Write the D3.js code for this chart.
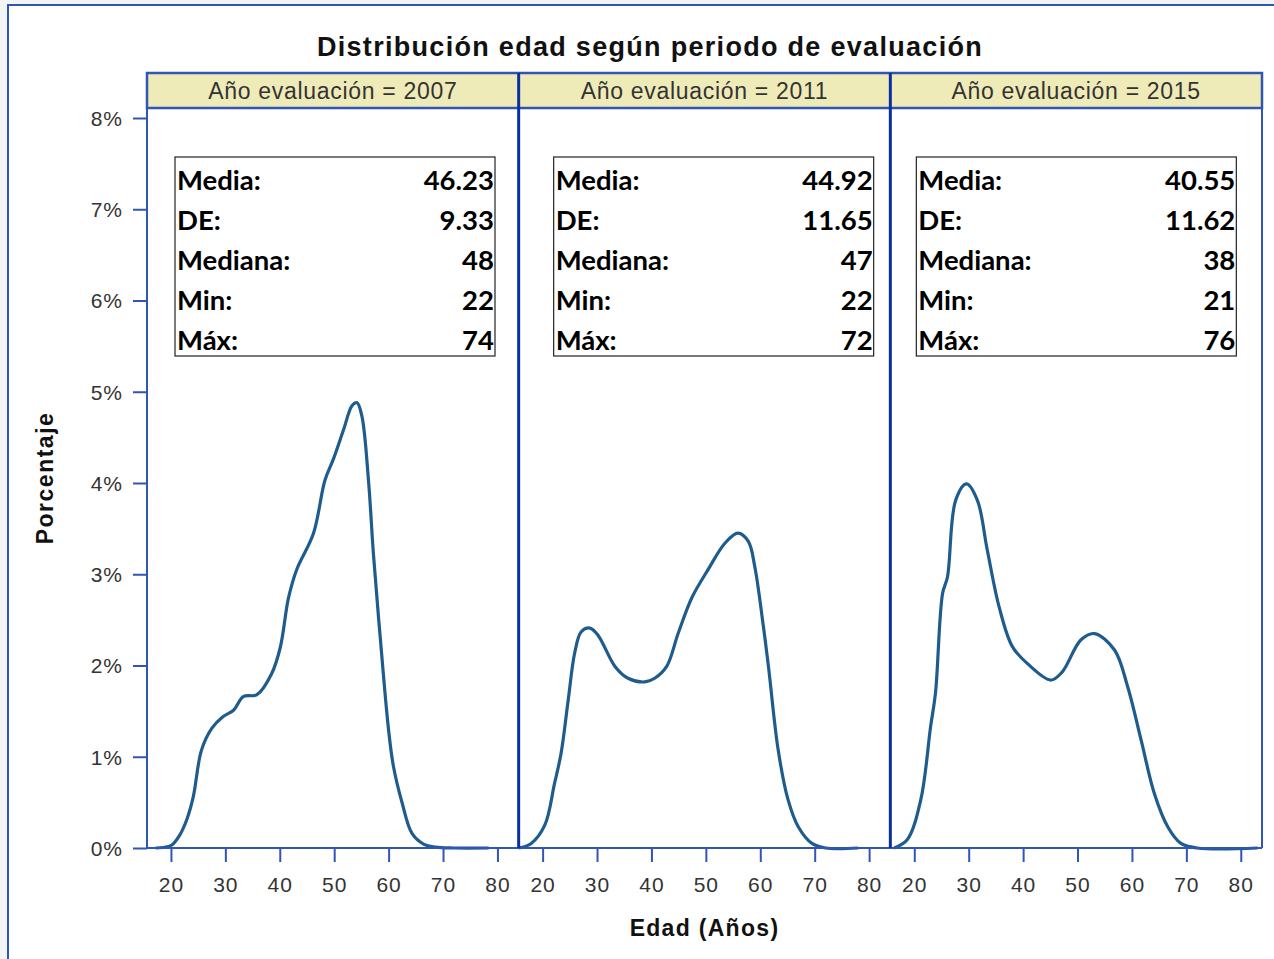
<!doctype html>
<html>
<head>
<meta charset="utf-8">
<script src="https://d3js.org/d3.v7.min.js"></script>
<style>
  body { margin: 0; background: #f3f5f5; }
  svg text { font-family: "Liberation Sans", Arial, sans-serif; }
  .tick text { fill: #333; font-size: 21px; letter-spacing: 1px; }
  .stats text { font-family: Lato, "Open Sans", sans-serif; font-weight: bold; font-size: 27.5px; fill: #000; }
</style>
</head>
<body>
<script>
// periods and their summary stats
const years = ["2007", "2011", "2015"];
const statLabels = ["Media:", "DE:", "Mediana:", "Min:", "Máx:"];
const statValues = [
  ["46.23", "9.33", "48", "22", "74"],
  ["44.92", "11.65", "47", "22", "72"],
  ["40.55", "11.62", "38", "21", "76"]
];

// density curves (age, percent)
const age2007 = [17.2, 18.5, 20.1, 21.5, 22.9, 24.1, 25.6, 27.5, 29.6, 31.5, 33.3, 35.8, 38.5, 40.1, 41.6, 43.1, 46.2, 48.3, 49.9, 51.7, 53.3, 54.2, 55.1, 56.3, 57.2, 58.5, 60.0, 60.9, 62.5, 64.3, 66.5, 68.6, 72, 78.4];
const pct2007 = [0, 0.005, 0.03, 0.13, 0.31, 0.56, 1.07, 1.31, 1.44, 1.51, 1.66, 1.68, 1.91, 2.2, 2.74, 3.05, 3.45, 4.03, 4.27, 4.58, 4.85, 4.88, 4.73, 4.03, 3.23, 2.28, 1.29, 0.89, 0.49, 0.16, 0.04, 0.01, 0, 0];

const age2011 = [15.6, 17.9, 20.4, 22.2, 23.4, 24.7, 25.9, 27.1, 28.7, 30.2, 33.3, 35.7, 38.8, 40.6, 42.8, 44.9, 47.4, 50.4, 53.5, 55.9, 57.8, 59.0, 60.5, 61.5, 63.3, 65.1, 67.0, 69.5, 72, 78.0];
const pct2011 = [0, 0.05, 0.25, 0.71, 1.04, 1.62, 2.14, 2.37, 2.41, 2.33, 1.99, 1.86, 1.82, 1.86, 1.99, 2.35, 2.74, 3.05, 3.34, 3.45, 3.36, 3.08, 2.46, 1.99, 1.07, 0.53, 0.23, 0.05, 0, 0];

const age2015 = [16.3, 18.7, 21.2, 23.0, 23.9, 25.2, 26.1, 27.6, 29.6, 31.6, 33.4, 35.6, 38.0, 40.8, 45.1, 47.2, 50.6, 53.1, 56.8, 59.2, 61.7, 64.1, 66.6, 69.0, 72, 83.1];
const pct2015 = [0, 0.09, 0.53, 1.33, 1.70, 2.79, 2.97, 3.81, 3.99, 3.81, 3.27, 2.64, 2.21, 2.02, 1.84, 1.93, 2.28, 2.35, 2.17, 1.77, 1.18, 0.60, 0.23, 0.05, 0, 0];

const ages = [age2007, age2011, age2015];
const pcts = [pct2007, pct2011, pct2015];

const xTicks = [20, 30, 40, 50, 60, 70, 80];
const yTicks = [0, 1, 2, 3, 4, 5, 6, 7, 8];

// layout
const W = 1274, H = 959;
const plotL = 147, plotR = 1262, headTop = 73, headBot = 108, plotBot = 848;
const panelW = (plotR - plotL) / 3;
const boxOffset = [28, 35, 26], boxW = 320, boxTop = 157, boxH = 199;

const svg = d3.select("body").append("svg")
  .attr("width", W).attr("height", H);

// outer frame
svg.append("rect").attr("x", 8).attr("y", 5).attr("width", W + 10).attr("height", H + 10)
  .attr("fill", "#fff").attr("stroke", "#2f55b5").attr("stroke-width", 2);

svg.append("text").attr("x", 650).attr("y", 56).attr("text-anchor", "middle")
  .style("font-size", "27px").style("font-weight", "bold").style("letter-spacing", "1.3px").attr("fill", "#111")
  .text("Distribución edad según periodo de evaluación");

const y = d3.scaleLinear().domain([0, 8]).range([plotBot, 118]);

// header strip
svg.append("rect").attr("x", plotL).attr("y", headTop).attr("width", plotR - plotL).attr("height", headBot - headTop)
  .attr("fill", "#efebb8").attr("stroke", "#2f55b5").attr("stroke-width", 2.5);

// y axis
const yAxis = svg.append("g").attr("transform", `translate(${plotL},0)`)
  .call(d3.axisLeft(y).tickValues(yTicks).tickSize(14).tickPadding(10).tickFormat(d => d + "%"));
yAxis.select(".domain").remove();
yAxis.selectAll(".tick line").attr("stroke", "#2f55b5").attr("stroke-width", 2);
yAxis.selectAll(".tick text").attr("dy", "0.35em").attr("y", 0);

svg.append("text").attr("transform", `translate(53,${(headBot + plotBot) / 2}) rotate(-90)`)
  .attr("text-anchor", "middle").style("font-size", "23px").style("font-weight", "bold")
  .style("letter-spacing", "1.5px").attr("fill", "#111")
  .text("Porcentaje");

svg.append("text").attr("x", (plotL + plotR) / 2).attr("y", 936).attr("text-anchor", "middle")
  .style("font-size", "23px").style("font-weight", "bold").style("letter-spacing", "1.3px").attr("fill", "#111")
  .text("Edad (Años)");

const line = d3.line().curve(d3.curveCatmullRom.alpha(0.5));

years.forEach((yr, i) => {
  const x0 = plotL + i * panelW;
  const x = d3.scaleLinear().domain([15.6, 83.9]).range([x0, x0 + panelW]);

  svg.append("text").attr("x", x0 + panelW / 2).attr("y", 99).attr("text-anchor", "middle")
    .style("font-size", "23px").style("letter-spacing", "0.7px").attr("fill", "#333")
    .text("Año evaluación = " + yr);

  // x axis
  const xa = svg.append("g").attr("transform", `translate(0,${plotBot})`)
    .call(d3.axisBottom(x).tickValues(xTicks).tickSize(14).tickPadding(15));
  xa.select(".domain").remove();
  xa.selectAll(".tick line").attr("stroke", "#2f55b5").attr("stroke-width", 2);

  // stats box
  const bx = x0 + boxOffset[i];
  const g = svg.append("g").attr("class", "stats");
  g.append("rect").attr("x", bx).attr("y", boxTop).attr("width", boxW).attr("height", boxH)
    .attr("fill", "#fff").attr("stroke", "#222").attr("stroke-width", 1.2);
  statLabels.forEach((lab, k) => {
    const ty = boxTop + 33 + k * 40;
    g.append("text").attr("x", bx + 2).attr("y", ty).text(lab);
    g.append("text").attr("x", bx + boxW - 1).attr("y", ty).attr("text-anchor", "end").text(statValues[i][k]);
  });

  const pts = ages[i].map((a, k) => [x(a), y(pcts[i][k])]);
  svg.append("path").attr("d", line(pts)).attr("fill", "none")
    .attr("stroke", "#1f5c8e").attr("stroke-width", 3.2).attr("stroke-linejoin", "round");
});

// plot frame and dividers
svg.append("line").attr("x1", plotL).attr("x2", plotR).attr("y1", plotBot).attr("y2", plotBot)
  .attr("stroke", "#2f55b5").attr("stroke-width", 2);
svg.append("line").attr("x1", plotL).attr("x2", plotL).attr("y1", headTop).attr("y2", plotBot)
  .attr("stroke", "#2f55b5").attr("stroke-width", 2);
svg.append("line").attr("x1", plotR).attr("x2", plotR).attr("y1", headTop).attr("y2", plotBot)
  .attr("stroke", "#2f55b5").attr("stroke-width", 2);
[1, 2].forEach(k => {
  const xx = plotL + k * panelW;
  svg.append("line").attr("x1", xx).attr("x2", xx).attr("y1", headTop).attr("y2", plotBot)
    .attr("stroke", "#0a2fa0").attr("stroke-width", 3);
});
</script>
</body>
</html>
